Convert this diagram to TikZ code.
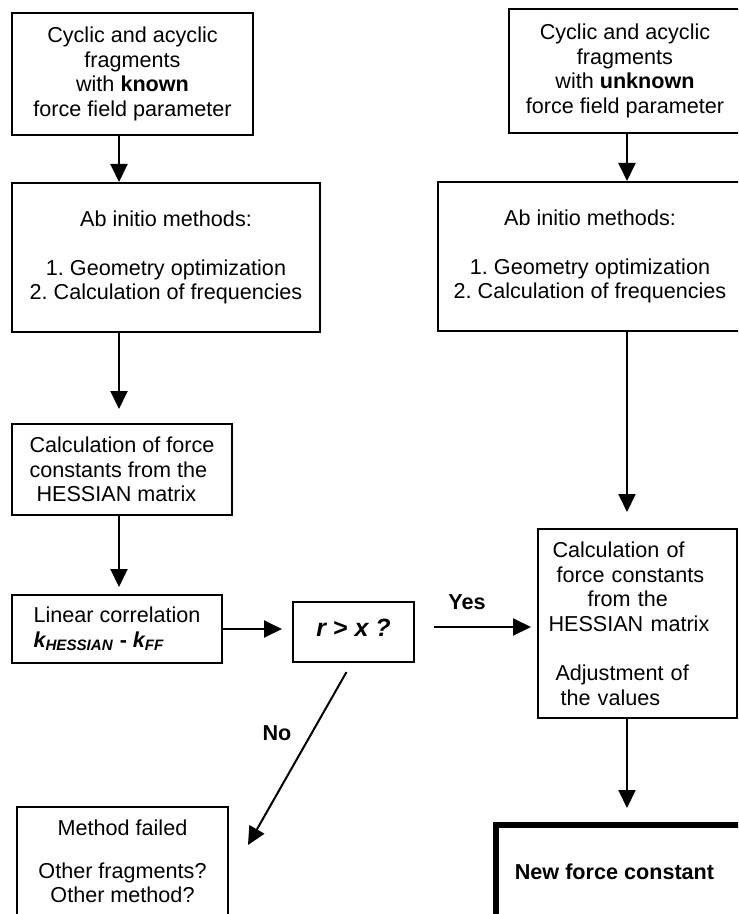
\documentclass[tikz,border=0pt]{standalone}
\usepackage{fontspec}
\setmainfont{Liberation Sans}
\usetikzlibrary{arrows.meta}
\frenchspacing

\begin{document}
\begin{tikzpicture}[x=0.5pt,y=-0.5pt,
		font=\fontsize{10.8}{12.3}\selectfont,
		box/.style={draw,line width=1pt,rectangle,align=center,inner sep=0pt},
		flow/.style={line width=1pt,-{Triangle[length=9pt,width=8.5pt]}},
		lbl/.style={font=\fontsize{10.8}{12.3}\selectfont\bfseries}]
	\clip (0,0) rectangle (738,914);
	\coordinate (lcol) at (119,0);
	\coordinate (rcol) at (627,0);
	% left branch
	\node[box,minimum width=120.5pt,minimum height=61pt] (known) at (132.5,74)
		{Cyclic and acyclic\\fragments\\with \textbf{known}\\force field parameter};
	\node[box,minimum width=154pt,minimum height=74.5pt] (abL) at (166,257.5)
		{Ab initio methods:\\[12.3pt]1. Geometry optimization\\2. Calculation of frequencies};
	\node[box,align=left,minimum width=110pt,minimum height=45.5pt] (hessL) at (122,469.5)
		{Calculation of force\\constants from the\\\hspace*{3.5pt}HESSIAN matrix};
	\node[box,align=left,minimum width=105pt,minimum height=34pt] (linear) at (117,629)
		{Linear correlation\\\textbf{\textit{k\textsubscript{HESSIAN}} - \textit{k\textsubscript{FF}}}};
	\node[box,minimum width=60.5pt,minimum height=30pt,font=\fontsize{12.5}{14}\selectfont\bfseries\itshape] (rx) at (353.5,632)
		{\raisebox{4.5pt}{r > x ?}};
	\node[box,minimum width=105.5pt,minimum height=54.5pt] (failed) at (122.5,861.5)
		{Method failed\\[9pt]Other fragments?\\Other method?};
	% right branch
	\node[box,minimum width=116pt,minimum height=62pt] (unknown) at (625,71)
		{Cyclic and acyclic\\fragments\\with \textbf{unknown}\\force field parameter};
	\node[box,minimum width=152pt,minimum height=74.5pt] (abR) at (590,256.5)
		{Ab initio methods:\\[12.3pt]1. Geometry optimization\\2. Calculation of frequencies};
	\node[box,align=left,text width=89pt,minimum width=99.5pt,minimum height=94.5pt] (calcR) at (637.5,623.5)
		{\hspace*{2pt}Calculation of\\\hspace*{4pt}force constants\\\hspace*{19.5pt}from the\\HESSIAN matrix\\[12.3pt]\hspace*{3.5pt}Adjustment of\\\hspace*{6pt}the values};
	\node[box,line width=3pt,minimum width=124.5pt,minimum height=47pt,font=\fontsize{10.8}{12.3}\selectfont\bfseries] (newfc) at (620.5,872)
		{New force constant\hspace*{6pt}};
	% connectors
	\draw[flow] (known.south -| lcol) -- (abL.north -| lcol);
	\draw[flow,shorten >=7pt] (abL.south -| lcol) -- (hessL.north -| lcol);
	\draw[flow,shorten >=3.5pt] (hessL.south -| lcol) -- (linear.north -| lcol);
	\draw[flow,shorten >=5pt] (linear.east) -- (linear.east -| rx.west);
	\draw[flow,shorten <=9.5pt,shorten >=3pt] ([yshift=2.5pt]rx.east) -- ([yshift=2.5pt]rx.east -| calcR.west);
	\draw[flow] ([shift={(-7,9)}]rx.south) -- ([shift={(19,-16.5)}]failed.east);
	\draw[flow] (unknown.south -| rcol) -- (abR.north -| rcol);
	\draw[flow,shorten >=8pt] (abR.south -| rcol) -- (calcR.north -| rcol);
	\draw[flow,shorten >=7pt] (calcR.south -| rcol) -- (newfc.north -| rcol);
	\node[lbl] (yes) at (467,602) {Yes};
	\node[lbl] (no) at (277,733) {No};
\end{tikzpicture}
\end{document}
